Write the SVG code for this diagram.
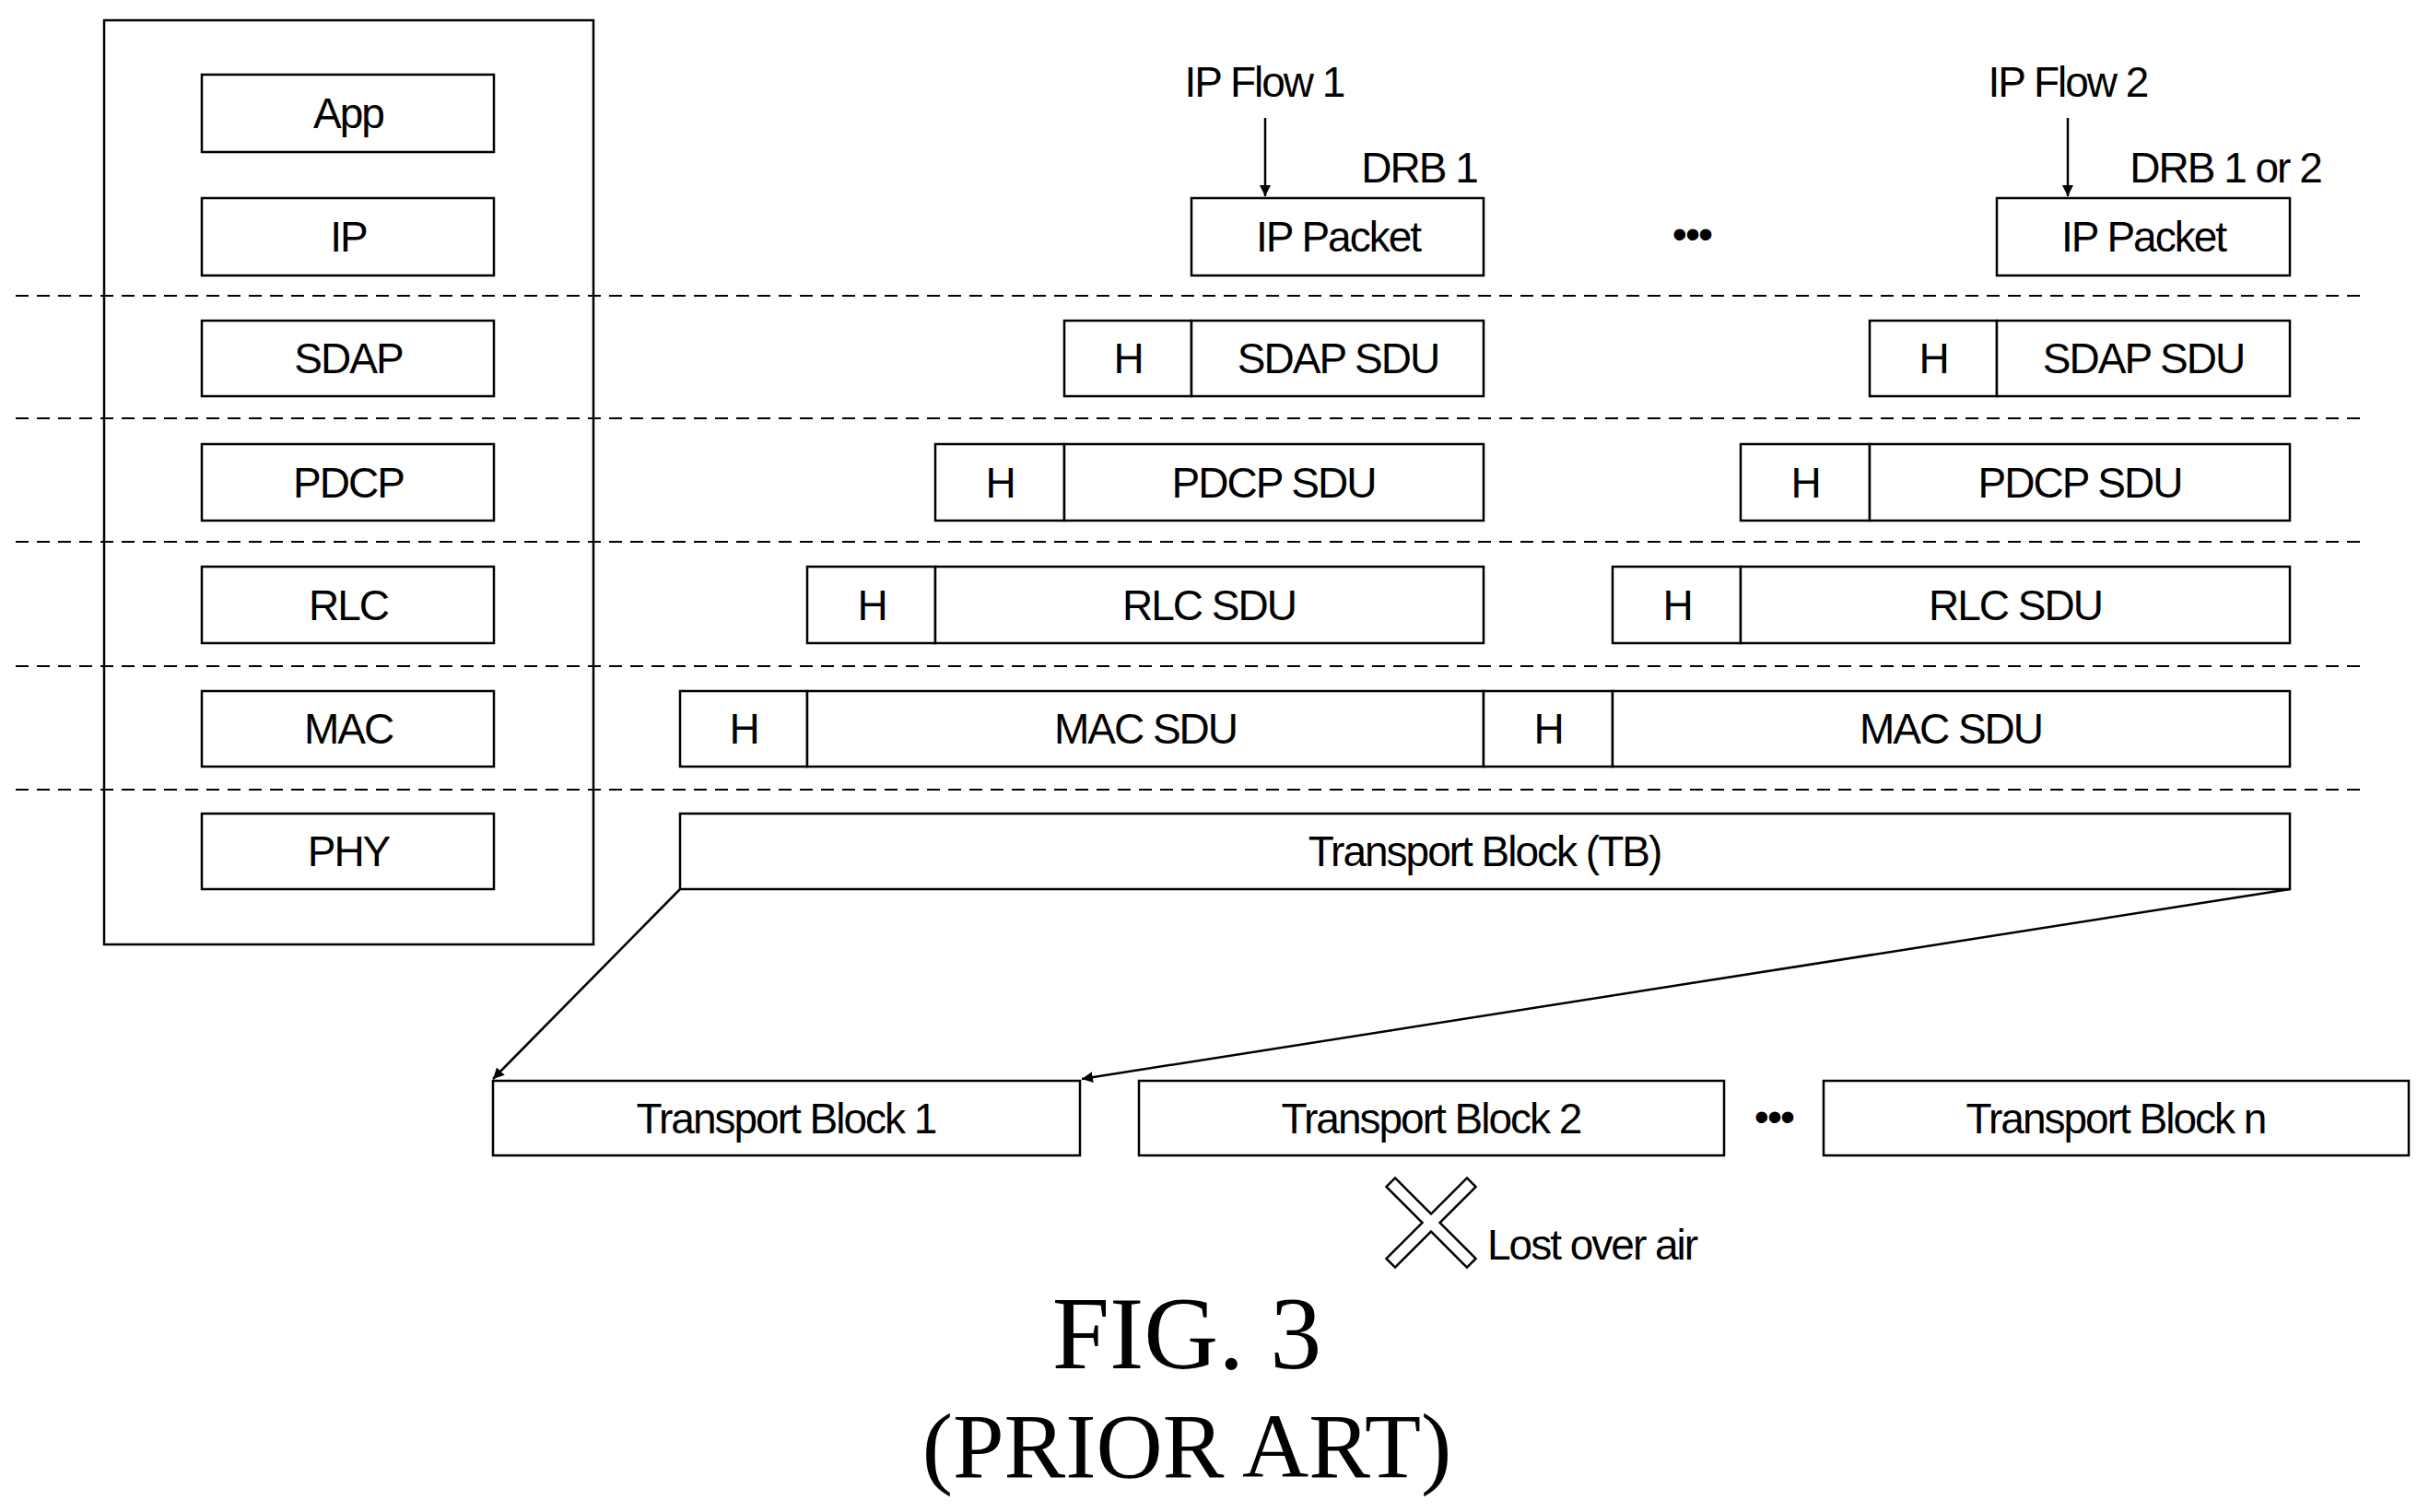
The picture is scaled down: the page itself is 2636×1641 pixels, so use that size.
<svg xmlns="http://www.w3.org/2000/svg" width="2636" height="1641" viewBox="0 0 2636 1641">
<style>
.b{fill:#fff;stroke:#000;stroke-width:2.5}
.t{font-family:"Liberation Sans Narrow","Liberation Sans",sans-serif;font-size:46px;letter-spacing:-2px;text-anchor:middle;fill:#000}
.d{stroke:#000;stroke-width:2;stroke-dasharray:14,9;fill:none}
.c{stroke:#000;stroke-width:2.5;fill:none;marker-end:url(#a)}
.f{font-family:"Liberation Serif",serif;text-anchor:middle;fill:#000}
</style>
<defs><marker id="a" viewBox="0 0 10 10" refX="10" refY="5" markerWidth="12" markerHeight="12" markerUnits="userSpaceOnUse" orient="auto"><path d="M0,0L10,5L0,10z" fill="#000"/></marker>
<marker id="b" viewBox="0 0 20 20" refX="20" refY="10" markerWidth="24" markerHeight="24" markerUnits="userSpaceOnUse" orient="auto"><path d="M0,2L20,10L0,18" fill="none" stroke="#000" stroke-width="3"/></marker></defs>
<rect width="2636" height="1641" fill="#fff"/>
<g id="stack">
<rect x="113" y="22" width="531" height="1003" fill="none" stroke="#000" stroke-width="2.5"/>
<g id="app"><rect class="b" x="219" y="81" width="317" height="84"/><text class="t" x="378" y="139">App</text></g>
<g id="ip"><rect class="b" x="219" y="215" width="317" height="84"/><text class="t" x="378" y="273">IP</text></g>
<g id="sdap"><rect class="b" x="219" y="348" width="317" height="82"/><text class="t" x="378" y="405">SDAP</text></g>
<g id="pdcp"><rect class="b" x="219" y="482" width="317" height="83"/><text class="t" x="378" y="540">PDCP</text></g>
<g id="rlc"><rect class="b" x="219" y="615" width="317" height="83"/><text class="t" x="378" y="673">RLC</text></g>
<g id="mac"><rect class="b" x="219" y="750" width="317" height="82"/><text class="t" x="378" y="807">MAC</text></g>
<g id="phy"><rect class="b" x="219" y="883" width="317" height="82"/><text class="t" x="378" y="940">PHY</text></g>
</g>
<g id="dashes">
<line class="d" x1="17" y1="321" x2="2564" y2="321"/><line class="d" x1="17" y1="454" x2="2564" y2="454"/><line class="d" x1="17" y1="588" x2="2564" y2="588"/><line class="d" x1="17" y1="723" x2="2564" y2="723"/><line class="d" x1="17" y1="857" x2="2564" y2="857"/>
</g>
<g id="ippkt1"><rect class="b" x="1293" y="215" width="317" height="84"/><text class="t" x="1452" y="273">IP Packet</text></g>
<g id="ippkt2"><rect class="b" x="2167" y="215" width="318" height="84"/><text class="t" x="2326" y="273">IP Packet</text></g>
<g id="sdap1"><rect class="b" x="1155" y="348" width="138" height="82"/><text class="t" x="1224" y="405">H</text><rect class="b" x="1293" y="348" width="317" height="82"/><text class="t" x="1452" y="405">SDAP SDU</text></g>
<g id="sdap2"><rect class="b" x="2029" y="348" width="138" height="82"/><text class="t" x="2098" y="405">H</text><rect class="b" x="2167" y="348" width="318" height="82"/><text class="t" x="2326" y="405">SDAP SDU</text></g>
<g id="pdcp1"><rect class="b" x="1015" y="482" width="140" height="83"/><text class="t" x="1085" y="540">H</text><rect class="b" x="1155" y="482" width="455" height="83"/><text class="t" x="1382" y="540">PDCP SDU</text></g>
<g id="pdcp2"><rect class="b" x="1889" y="482" width="140" height="83"/><text class="t" x="1959" y="540">H</text><rect class="b" x="2029" y="482" width="456" height="83"/><text class="t" x="2257" y="540">PDCP SDU</text></g>
<g id="rlc1"><rect class="b" x="876" y="615" width="139" height="83"/><text class="t" x="946" y="673">H</text><rect class="b" x="1015" y="615" width="595" height="83"/><text class="t" x="1312" y="673">RLC SDU</text></g>
<g id="rlc2"><rect class="b" x="1750" y="615" width="139" height="83"/><text class="t" x="1820" y="673">H</text><rect class="b" x="1889" y="615" width="596" height="83"/><text class="t" x="2187" y="673">RLC SDU</text></g>
<g id="macpdu"><rect class="b" x="738" y="750" width="138" height="82"/><text class="t" x="807" y="807">H</text><rect class="b" x="876" y="750" width="734" height="82"/><text class="t" x="1243" y="807">MAC SDU</text><rect class="b" x="1610" y="750" width="140" height="82"/><text class="t" x="1680" y="807">H</text><rect class="b" x="1750" y="750" width="735" height="82"/><text class="t" x="2117" y="807">MAC SDU</text></g>
<g id="tb"><rect class="b" x="738" y="883" width="1747" height="82"/><text class="t" x="1611" y="940">Transport Block (TB)</text></g>
<g id="tb1"><rect class="b" x="535" y="1173" width="637" height="81"/><text class="t" x="853" y="1230">Transport Block 1</text></g>
<g id="tb2"><rect class="b" x="1236" y="1173" width="635" height="81"/><text class="t" x="1553" y="1230">Transport Block 2</text></g>
<g id="tbn"><rect class="b" x="1979" y="1173" width="635" height="81"/><text class="t" x="2296" y="1230">Transport Block n</text></g>
<g id="connectors">
<line class="c" x1="1373" y1="128" x2="1373" y2="213" marker-end="url(#b)"/>
<line class="c" x1="2244" y1="128" x2="2244" y2="213" marker-end="url(#b)"/>
<line class="c" x1="738" y1="965" x2="535" y2="1171"/>
<line class="c" x1="2485" y1="965" x2="1174" y2="1171"/>
</g>
<g id="labels">
<text class="t" x="1372" y="105">IP Flow 1</text>
<text class="t" x="2244" y="105">IP Flow 2</text>
<text class="t" x="1540" y="198">DRB 1</text>
<text class="t" x="2415" y="198">DRB 1 or 2</text>
<text class="t" x="1836" y="270">•••</text>
<text class="t" x="1925" y="1228">•••</text>
<text class="t" x="1614" y="1367" style="text-anchor:start">Lost over air</text>
<text class="f" x="1288" y="1485" font-size="112">FIG. 3</text>
<text class="f" x="1288" y="1603" font-size="100">(PRIOR ART)</text>
</g>
<g id="lost">
<path d="M1514,1288L1592,1366M1592,1288L1514,1366" stroke="#000" stroke-width="16" stroke-linecap="square"/>
<path d="M1514,1288L1592,1366M1592,1288L1514,1366" stroke="#fff" stroke-width="11" stroke-linecap="square"/>
</g>
</svg>
